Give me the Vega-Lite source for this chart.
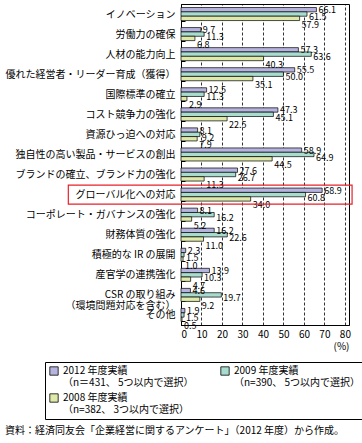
{
  "$schema": "https://vega.github.io/schema/vega-lite/v6.json",
  "autosize": "none",
  "width": 168,
  "height": 321,
  "padding": {"left": 181, "top": 4, "right": 13, "bottom": 118},
  "background": "white",
  "config": {
    "font": "Noto Sans CJK JP",
    "view": {"stroke": "black", "strokeWidth": 1},
    "axis": {"labelFont": "Noto Sans CJK JP", "titleFont": "Noto Sans CJK JP", "labelColor": "black", "titleColor": "black", "domainColor": "black", "tickColor": "black"},
    "axisX": {"grid": true, "gridColor": "black", "gridDash": [3, 2], "gridWidth": 0.8, "ticks": false, "labelFontSize": 10, "labelPadding": 4, "labelOverlap": false, "titleAnchor": "end", "titleFontSize": 10, "titleFontWeight": "normal", "titlePadding": 2},
    "legend": {"labelFont": "Noto Sans CJK JP"},
    "title": {"font": "Noto Sans CJK JP"}
  },
  "title": {"text": "資料：経済同友会「企業経営に関するアンケート」（2012 年度）から作成。", "orient": "bottom", "anchor": "start", "frame": "bounds", "fontSize": 10, "fontWeight": "normal", "color": "black", "offset": 6},
  "data": {"values": [
    {"category": "イノベーション", "series": "2012", "value": 66.1},
    {"category": "イノベーション", "series": "2009", "value": 61.5},
    {"category": "イノベーション", "series": "2008", "value": 57.9},
    {"category": "労働力の確保", "series": "2012", "value": 9.7},
    {"category": "労働力の確保", "series": "2009", "value": 11.3},
    {"category": "労働力の確保", "series": "2008", "value": 6.8},
    {"category": "人材の能力向上", "series": "2012", "value": 57.3},
    {"category": "人材の能力向上", "series": "2009", "value": 63.6},
    {"category": "人材の能力向上", "series": "2008", "value": 40.3},
    {"category": "優れた経営者・リーダー育成（獲得）", "series": "2012", "value": 55.5},
    {"category": "優れた経営者・リーダー育成（獲得）", "series": "2009", "value": 50.0},
    {"category": "優れた経営者・リーダー育成（獲得）", "series": "2008", "value": 35.1},
    {"category": "国際標準の確立", "series": "2012", "value": 12.5},
    {"category": "国際標準の確立", "series": "2009", "value": 11.3},
    {"category": "国際標準の確立", "series": "2008", "value": 2.9},
    {"category": "コスト競争力の強化", "series": "2012", "value": 47.3},
    {"category": "コスト競争力の強化", "series": "2009", "value": 45.1},
    {"category": "コスト競争力の強化", "series": "2008", "value": 22.5},
    {"category": "資源ひっ迫への対応", "series": "2012", "value": 8.1},
    {"category": "資源ひっ迫への対応", "series": "2009", "value": 9.2},
    {"category": "資源ひっ迫への対応", "series": "2008", "value": 7.9},
    {"category": "独自性の高い製品・サービスの創出", "series": "2012", "value": 58.9},
    {"category": "独自性の高い製品・サービスの創出", "series": "2009", "value": 64.9},
    {"category": "独自性の高い製品・サービスの創出", "series": "2008", "value": 44.5},
    {"category": "ブランドの確立、ブランド力の強化", "series": "2012", "value": 27.6},
    {"category": "ブランドの確立、ブランド力の強化", "series": "2009", "value": 26.7},
    {"category": "ブランドの確立、ブランド力の強化", "series": "2008", "value": 11.3},
    {"category": "グローバル化への対応", "series": "2012", "value": 68.9},
    {"category": "グローバル化への対応", "series": "2009", "value": 60.8},
    {"category": "グローバル化への対応", "series": "2008", "value": 34.0},
    {"category": "コーポレート・ガバナンスの強化", "series": "2012", "value": 8.1},
    {"category": "コーポレート・ガバナンスの強化", "series": "2009", "value": 16.2},
    {"category": "コーポレート・ガバナンスの強化", "series": "2008", "value": 5.2},
    {"category": "財務体質の強化", "series": "2012", "value": 16.2},
    {"category": "財務体質の強化", "series": "2009", "value": 22.6},
    {"category": "財務体質の強化", "series": "2008", "value": 11.0},
    {"category": "積極的な IR の展開", "series": "2012", "value": 2.3},
    {"category": "積極的な IR の展開", "series": "2009", "value": 1.5},
    {"category": "積極的な IR の展開", "series": "2008", "value": 1.0},
    {"category": "産官学の連携強化", "series": "2012", "value": 13.9},
    {"category": "産官学の連携強化", "series": "2009", "value": 10.3},
    {"category": "産官学の連携強化", "series": "2008", "value": 4.7},
    {"category": "CSR の取り組み|（環境問題対応を含む）", "series": "2012", "value": 4.6},
    {"category": "CSR の取り組み|（環境問題対応を含む）", "series": "2009", "value": 19.7},
    {"category": "CSR の取り組み|（環境問題対応を含む）", "series": "2008", "value": 9.2},
    {"category": "その他", "series": "2012", "value": 1.9},
    {"category": "その他", "series": "2009", "value": 1.5},
    {"category": "その他", "series": "2008", "value": 0.5}
  ]},
  "encoding": {
    "y": {"field": "category", "type": "nominal", "sort": null,
      "scale": {"paddingInner": 0.35, "paddingOuter": 0.175},
      "axis": {"title": null, "labelExpr": "split(datum.label, '|')", "labelFontSize": 10, "labelLimit": 0, "tickBand": "extent", "tickSize": -4, "labelPadding": 10, "domainColor": "black", "labelLineHeight": 11}},
    "x": {"field": "value", "type": "quantitative",
      "scale": {"domain": [0, 82], "nice": false},
      "axis": {"values": [0, 10, 20, 30, 40, 50, 60, 70, 80], "title": "(%)"}},
    "yOffset": {"field": "series", "type": "nominal", "scale": {"domain": ["2012", "2009", "2008"]}}
  },
  "layer": [
    {
      "mark": {"type": "bar", "stroke": "black", "strokeWidth": 0.7},
      "encoding": {
        "color": {"field": "series", "type": "nominal",
          "scale": {"domain": ["2012", "2008", "2009"], "range": ["#b6b4de", "#dfe9aa", "#a8dccf"]},
          "legend": {"orient": "none", "legendX": -136, "legendY": 358, "title": null, "columns": 2, "columnPadding": 25, "rowPadding": 4,
            "labelExpr": "datum.value == '2012' ? ['2012 年度実績', '（n＝431、 5つ以内で選択）'] : datum.value == '2009' ? ['2009 年度実績', '（n=390、 5つ以内で選択）'] : ['2008 年度実績', '（n=382、 3つ以内で選択）']",
            "labelFontSize": 10, "labelLimit": 0, "labelColor": "black", "symbolType": "square", "symbolSize": 70, "symbolStrokeColor": "black", "symbolStrokeWidth": 0.8, "symbolOpacity": 1, "strokeColor": "black", "padding": 4, "fillColor": "white"}}
      }
    },
    {
      "transform": [{"filter": "datum.series == '2012'"}],
      "mark": {"type": "text", "align": "left", "baseline": "middle", "dx": 2, "dy": 0.5, "fontSize": 9, "color": "black"},
      "encoding": {"text": {"field": "value", "type": "quantitative", "format": ".1f"}}
    },
    {
      "transform": [{"filter": "datum.series == '2009'"}],
      "mark": {"type": "text", "align": "left", "baseline": "middle", "dx": 2, "dy": 3.2, "fontSize": 9, "color": "black"},
      "encoding": {"text": {"field": "value", "type": "quantitative", "format": ".1f"}}
    },
    {
      "transform": [{"filter": "datum.series == '2008'"}],
      "mark": {"type": "text", "align": "left", "baseline": "middle", "dx": 2, "dy": 6.5, "fontSize": 9, "color": "black"},
      "encoding": {"text": {"field": "value", "type": "quantitative", "format": ".1f"}}
    },
    {
      "data": {"values": [{"category": "グローバル化への対応", "start": -55, "end": 83.5}]},
      "mark": {"type": "bar", "filled": false, "stroke": "#e8202a", "strokeWidth": 1.2, "height": {"band": 1.46}},
      "encoding": {
        "x": {"field": "start", "type": "quantitative"},
        "x2": {"field": "end"},
        "yOffset": null
      }
    }
  ]
}
